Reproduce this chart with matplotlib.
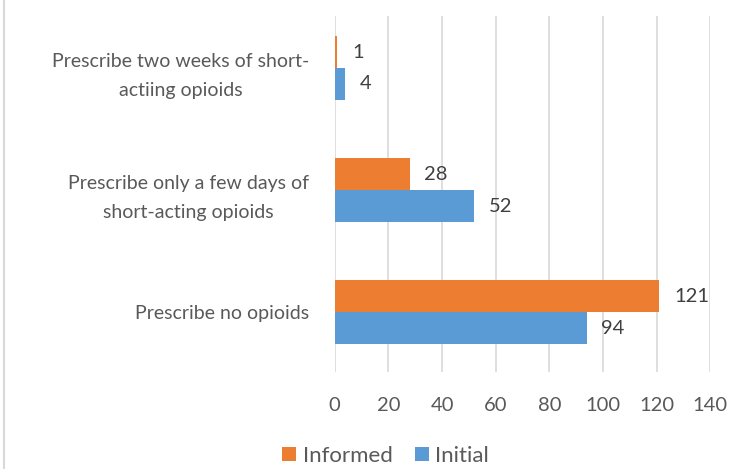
import matplotlib
matplotlib.use("Agg")
import matplotlib.pyplot as plt
import numpy as np

categories = ["Prescribe two weeks of short-\nactiing opioids",
              "Prescribe only a few days of\nshort-acting opioids",
              "Prescribe no opioids"]
informed = [1, 28, 121]
initial = [4, 52, 94]
xticks = [0, 20, 40, 60, 80, 100, 120, 140]

plt.rcParams['font.family'] = ['Lato', 'DejaVu Sans']
txt = '#595959'
c_inf = '#ED7D31'
c_ini = '#5B9BD5'

fig = plt.figure(figsize=(7.45, 4.69), dpi=100)
ax = fig.add_axes([0.4493, 0.2068, 0.9534 - 0.4493, 0.9659 - 0.2068])

y = np.arange(len(categories))
h = 0.262
b1 = ax.barh(y - h / 2, informed, height=h, color=c_inf, label='Informed', zorder=3)
b2 = ax.barh(y + h / 2, initial, height=h, color=c_ini, label='Initial', zorder=3)

for bars, vals in ((b1, informed), (b2, initial)):
    for bar, v in zip(bars, vals):
        ax.annotate(str(v), (bar.get_width(), bar.get_y() + bar.get_height() / 2),
                    xytext=(10.5, 0), textcoords='offset points',
                    va='center', ha='left', fontsize=14.5, color='#404040')

ax.set_xlim(0, 140)
ax.set_ylim(2.49, -0.426)
ax.set_xticks(xticks)
ax.set_xticklabels([str(t) for t in xticks], fontsize=14.5, color=txt)
ax.set_yticks(y)
ax.set_yticklabels(categories, fontsize=14, color=txt, multialignment='center',
                   linespacing=1.9)
ax.tick_params(axis='both', length=0)
ax.tick_params(axis='y', pad=18.5)
ax.tick_params(axis='x', pad=18)
ax.grid(axis='x', color='#D9D9D9', linewidth=1.2, zorder=0)
for s in ax.spines.values():
    s.set_visible(False)

handles, labels = ax.get_legend_handles_labels()
leg = fig.legend(handles, labels, loc='center', bbox_to_anchor=(0.5175, 0.028),
                 ncol=2, frameon=False, fontsize=16, handlelength=0.63,
                 handleheight=0.63, handletextpad=0.28, columnspacing=1.0,
                 borderpad=0, borderaxespad=0)
for t in leg.get_texts():
    t.set_color(txt)

fig.add_artist(plt.Line2D([0.005, 0.005], [0, 1], color='#D9D9D9', linewidth=1.5,
                          transform=fig.transFigure))

fig.savefig('out.png', dpi=100)
